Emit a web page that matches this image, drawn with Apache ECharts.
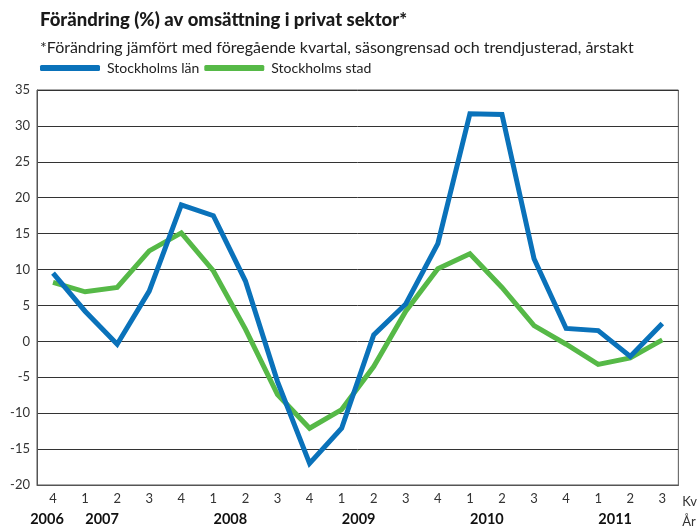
<!DOCTYPE html>
<html>
<head>
<meta charset="utf-8">
<script src="https://cdn.jsdelivr.net/npm/echarts@6/dist/echarts.min.js"></script>
<style>
  html, body { margin: 0; padding: 0; background: #fff; }
  #chart { width: 700px; height: 528px; }
</style>
</head>
<body>
<div id="chart"></div>
<script>
// kvartal 2006 Q4 - 2011 Q3
var quarters = ['4', '1', '2', '3', '4', '1', '2', '3', '4', '1', '2', '3', '4', '1', '2', '3', '4', '1', '2', '3'];
var years = ['2006', '2007', '', '', '', '2008', '', '', '', '2009', '', '', '', '2010', '', '', '', '2011', '', ''];
var lan = [9.5, 4.2, -0.4, 7.0, 19.0, 17.5, 8.4, -5.6, -17.0, -12.1, 0.9, 5.2, 13.6, 31.7, 31.6, 11.5, 1.8, 1.5, -2.1, 2.5];
var stad = [8.2, 6.9, 7.5, 12.6, 15.1, 9.8, 1.7, -7.4, -12.1, -9.5, -3.5, 4.2, 10.1, 12.2, 7.5, 2.2, -0.4, -3.2, -2.3, 0.2];
var yTicks = { min: -20, max: 35, interval: 5 };

var font = 'Lato, "DejaVu Sans", sans-serif';
var chart = echarts.init(document.getElementById('chart'));

var option = {
  animation: false,
  textStyle: { fontFamily: font },
  title: [
    {
      text: 'Förändring (%) av omsättning i privat sektor*',
      left: 35,
      top: 6,
      textStyle: { fontSize: 18.5, fontWeight: 900, color: '#1a1a1a', fontFamily: font }
    },
    {
      text: '*Förändring jämfört med föregående kvartal, säsongrensad och trendjusterad, årstakt',
      left: 35,
      top: 35,
      textStyle: { fontSize: 16, fontWeight: 'normal', color: '#222', fontFamily: font }
    }
  ],
  legend: {
    left: 35,
    top: 56,
    itemWidth: 60,
    itemHeight: 6,
    itemGap: 5,
    icon: 'roundRect',
    textStyle: { fontSize: 14, color: '#222', fontFamily: font, padding: [0, 0, 0, 2] },
    data: ['Stockholms län', 'Stockholms stad']
  },
  grid: {
    left: 37,
    right: 15,
    top: 90,
    bottom: 38,
    show: true,
    borderColor: '#555',
    borderWidth: 1
  },
  xAxis: [
    {
      type: 'category',
      data: quarters,
      boundaryGap: true,
      axisLine: { show: true, onZero: false, lineStyle: { color: '#555' } },
      axisTick: { show: false },
      axisLabel: { fontSize: 13, color: '#333', margin: 7, interval: 0 },
      name: 'Kv',
      nameLocation: 'end',
      nameGap: 4,
      nameTextStyle: { fontSize: 13, color: '#333', verticalAlign: 'top', padding: [10, 0, 0, 0] }
    },
    {
      type: 'category',
      data: years,
      position: 'bottom',
      offset: 20,
      boundaryGap: true,
      axisLine: { show: false, onZero: false },
      axisTick: { show: false },
      axisLabel: {
        interval: 0,
        margin: 7,
        formatter: function (v) {
          if (!v) return '';
          return v === '2006' ? '{a|' + v + '}' : '{b|' + v + '}';
        },
        rich: {
          a: { fontSize: 14.5, fontWeight: 'bold', color: '#111', padding: [0, 12, 0, 0] },
          b: { fontSize: 14.5, fontWeight: 'bold', color: '#111', padding: [0, 0, 0, 34] }
        }
      },
      name: 'År',
      nameLocation: 'end',
      nameGap: 4,
      nameTextStyle: { fontSize: 13, color: '#333', verticalAlign: 'top', padding: [10, 0, 0, 0] }
    }
  ],
  yAxis: {
    type: 'value',
    min: yTicks.min,
    max: yTicks.max,
    interval: yTicks.interval,
    axisLine: { show: true, lineStyle: { color: '#555' } },
    axisTick: { show: false },
    axisLabel: { fontSize: 13, color: '#333', margin: 7 },
    splitLine: { show: true, lineStyle: { color: '#333', width: 1 } }
  },
  series: [
    {
      name: 'Stockholms län',
      type: 'line',
      data: lan,
      symbol: 'none',
      color: '#0a72ba',
      lineStyle: { width: 5, color: '#0a72ba', join: 'miter' },
      z: 3
    },
    {
      name: 'Stockholms stad',
      type: 'line',
      data: stad,
      symbol: 'none',
      color: '#56b947',
      lineStyle: { width: 5, color: '#56b947', join: 'miter' },
      z: 2
    }
  ]
};

chart.setOption(option);
</script>
</body>
</html>
